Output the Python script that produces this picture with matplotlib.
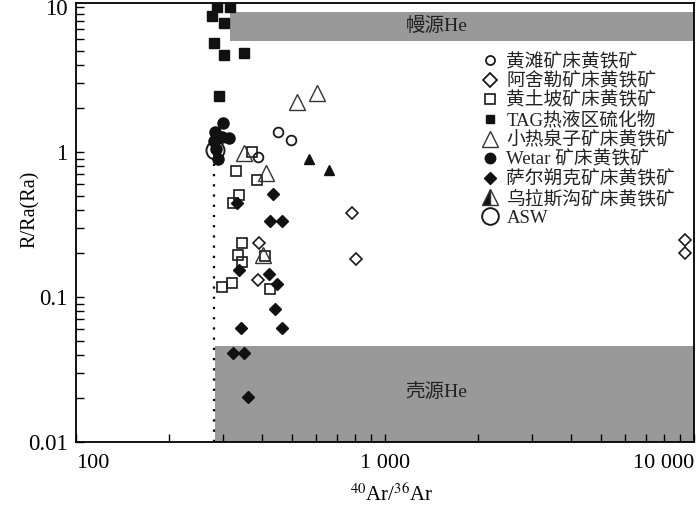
import matplotlib
matplotlib.use("Agg")
import matplotlib.pyplot as plt
from matplotlib.lines import Line2D
from matplotlib.ticker import FixedLocator, NullFormatter, LogLocator

plt.rcParams['font.family'] = ['Liberation Serif', 'Noto Sans CJK SC']
plt.rcParams['mathtext.fontset'] = 'stix'

# ---------------- data ----------------
huangtan_x = [452, 496, 389]
huangtan_y = [1.38, 1.20, 0.93]

ashele_x = [780, 806, 391, 389, 9350, 9350]
ashele_y = [0.378, 0.182, 0.234, 0.132, 0.247, 0.202]

huangtupo_x = [370, 330, 385, 338, 322, 344, 335, 344, 320, 296, 426, 409]
huangtupo_y = [1.00, 0.74, 0.64, 0.505, 0.445, 0.234, 0.196, 0.173, 0.124, 0.117, 0.113, 0.192]

tag_x = [287, 314, 276, 301, 280, 302, 349, 291]
tag_y = [9.95, 10.0, 8.7, 7.8, 5.62, 4.64, 4.84, 2.43]

xrqz_x = [518, 601, 350, 413, 403]
xrqz_y = [2.21, 2.56, 0.99, 0.713, 0.195]

wetar_x = [300, 281, 296, 313, 279, 284, 288]
wetar_y = [1.58, 1.37, 1.27, 1.25, 1.19, 1.05, 0.895]

sexk_x = [433, 333, 425, 463, 338, 421, 448, 442, 343, 463, 322, 350, 359]
sexk_y = [0.513, 0.447, 0.336, 0.336, 0.1535, 0.1434, 0.1224, 0.0823, 0.0611,
          0.0611, 0.0411, 0.0411, 0.0204]

wlsg_x = [568, 659]
wlsg_y = [0.89, 0.75]

asw_x = [282]
asw_y = [1.04]

atm_ar = 280            # dotted reference line
mantle_box = (314, 5.83, 9.24)   # x start, y low, y high
crust_box = (281, 0.046)         # x start, y high

labels = ['黄滩矿床黄铁矿', '阿舍勒矿床黄铁矿', '黄土坡矿床黄铁矿', 'TAG热液区硫化物',
          '小热泉子矿床黄铁矿', 'Wetar 矿床黄铁矿', '萨尔朔克矿床黄铁矿', '乌拉斯沟矿床黄铁矿', 'ASW']
xticks_major = [100, 1000, 10000]
xtick_labels = ['100', '1 000', '10 000']
yticks_major = [0.01, 0.1, 1, 10]
ytick_labels = ['0.01', '0.1', '1', '10']

# ---------------- figure ----------------
fig = plt.figure(figsize=(7.0, 5.08), dpi=100)
ax = fig.add_axes([76/700, 1-442/508, 618/700, 439/508])
ax.set_xscale('log')
ax.set_yscale('log')
ax.set_xlim(100, 10000)
ax.set_ylim(0.01, 10.65)

gray = '#999999'
xmax = 10000
ax.fill_between([mantle_box[0], xmax], mantle_box[1], mantle_box[2], color=gray, lw=0, zorder=1)
ax.fill_between([crust_box[0], xmax], 0.01, crust_box[1], color=gray, lw=0, zorder=1)
ax.plot([atm_ar, atm_ar], [0.01, 1.0], color='black', lw=1.6, ls=(0, (1, 3.6)), zorder=2)

ax.text(1470, 7.4, '幔源He', fontsize=14, ha='center', va='center', color='#222222', zorder=3)
ax.text(1470, 0.0221, '壳源He', fontsize=14, ha='center', va='center', color='#222222', zorder=3)

ec = '#1a1a1a'
ax.plot(asw_x, asw_y, 'o', ms=13, mfc='none', mec=ec, mew=1.4, ls='none', zorder=4)
ax.plot(tag_x, tag_y, 's', ms=7.2, mfc='#111111', mec='#111111', ls='none', zorder=4)
ax.plot(wetar_x, wetar_y, 'o', ms=8, mfc='#111111', mec='#111111', ls='none', zorder=4)
ax.plot(huangtan_x, huangtan_y, 'o', ms=7, mfc='none', mec=ec, mew=1.3, ls='none', zorder=5)
ax.plot(huangtupo_x, huangtupo_y, 's', ms=7.2, mfc='none', mec=ec, mew=1.2, ls='none', zorder=5)
ax.plot(ashele_x, ashele_y, 'D', ms=6.3, mfc='none', mec=ec, mew=1.2, ls='none', zorder=5)
ax.plot(sexk_x, sexk_y, 'D', ms=6.0, mfc='#111111', mec='#111111', ls='none', zorder=5)
ax.plot(xrqz_x, xrqz_y, '^', ms=11.5, mfc='none', mec='#333333', mew=1.0, ls='none', zorder=5)
ax.plot(wlsg_x, wlsg_y, '^', ms=7.5, mfc='#111111', mec='#111111', ls='none', zorder=5)

# legend handles
h = [
    Line2D([], [], marker='o', ms=6.5, mfc='none', mec=ec, mew=1.3, ls='none'),
    Line2D([], [], marker='D', ms=7, mfc='none', mec=ec, mew=1.3, ls='none'),
    Line2D([], [], marker='s', ms=7, mfc='none', mec=ec, mew=1.2, ls='none'),
    Line2D([], [], marker='s', ms=6, mfc='#111111', mec='#111111', ls='none'),
    Line2D([], [], marker='^', ms=12, mfc='none', mec='#333333', mew=1.0, ls='none'),
    Line2D([], [], marker='o', ms=7.5, mfc='#111111', mec='#111111', ls='none'),
    Line2D([], [], marker='D', ms=6, mfc='#111111', mec='#111111', ls='none'),
    Line2D([], [], marker='^', ms=12, mfc='#111111', mfcalt='white', fillstyle='left',
           mec='#333333', mew=1.0, ls='none'),
    Line2D([], [], marker='o', ms=12, mfc='none', mec=ec, mew=1.4, ls='none'),
]
leg = ax.legend(h, labels, loc='upper left', bbox_to_anchor=(0.654, 0.885), frameon=False,
                fontsize=13.5, handlelength=1.0, handletextpad=0.4, labelspacing=0.1,
                borderpad=0, borderaxespad=0)
for t in leg.get_texts():
    t.set_color('#222222')

# ticks
ax.xaxis.set_major_locator(FixedLocator(xticks_major))
ax.xaxis.set_major_formatter(matplotlib.ticker.FixedFormatter(xtick_labels))
ax.xaxis.set_minor_locator(LogLocator(base=10, subs=range(2, 10)))
ax.xaxis.set_minor_formatter(NullFormatter())
ax.yaxis.set_major_locator(FixedLocator(yticks_major))
ax.yaxis.set_major_formatter(matplotlib.ticker.FixedFormatter(ytick_labels))
ax.yaxis.set_minor_locator(LogLocator(base=10, subs=range(2, 10)))
ax.yaxis.set_minor_formatter(NullFormatter())
ax.tick_params(which='both', direction='in', top=False, right=False, length=5.5, width=1.0)
ax.tick_params(axis='x', labelsize=16, pad=9)
ax.tick_params(axis='y', labelsize=16.5, pad=6)
xl = ax.get_xticklabels()
xl[0].set_horizontalalignment('left')
xl[-1].set_horizontalalignment('right')

for s in ax.spines.values():
    s.set_linewidth(1.3)

ax.set_xlabel(r'$^{40}$Ar/$^{36}$Ar', fontsize=15)
ax.xaxis.set_label_coords(0.51, -0.095)
ax.set_ylabel('R/Ra(Ra)', fontsize=14.5)
ax.yaxis.set_label_coords(-0.058, 0.53)

fig.savefig('out.png', dpi=100)
